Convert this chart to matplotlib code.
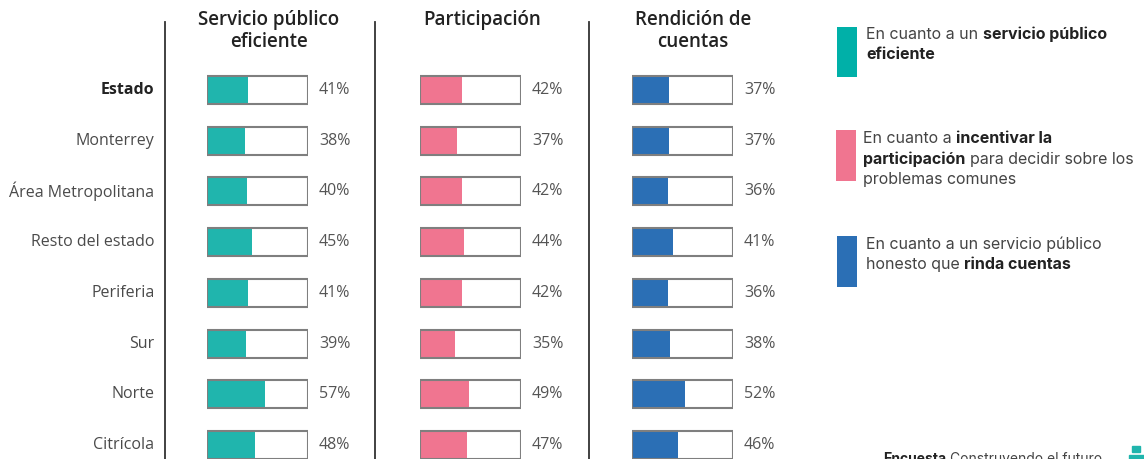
import numpy as np
import matplotlib.pyplot as plt
from matplotlib.patches import Rectangle

# datos
regiones = ["Estado", "Monterrey", "Área Metropolitana", "Resto del estado",
            "Periferia", "Sur", "Norte", "Citrícola"]
titulos = ["Servicio público\neficiente", "Participación", "Rendición de\ncuentas"]
eficiente = [41, 38, 40, 45, 41, 39, 57, 48]
participacion = [42, 37, 42, 44, 42, 35, 49, 47]
rendicion = [37, 37, 36, 41, 36, 38, 52, 46]
colores = ["#20b5ad", "#f07590", "#2b6fb5"]

W, H = 1144, 459
fig = plt.figure(figsize=(W/100, H/100), dpi=100)
fuente = "Open Sans"
gris = "#4a4a4a"

# filas en pixeles
y0, y1 = 90, 445
paso = (y1-y0)/(len(regiones)-1)
top_px = y0-paso/2
bot_px = y1+paso/2
cajas_x = [207, 420, 632]
ancho = 101

def fx(px):
    return px/W

def fy(py):
    return 1-py/H

series = [eficiente, participacion, rendicion]
ys = np.arange(len(regiones))
for i in range(3):
    ax = fig.add_axes([fx(cajas_x[i]), fy(bot_px), ancho/W, (bot_px-top_px)/H])
    ax.set_xlim(0, 100)
    ax.set_ylim(len(regiones)-0.5, -0.5)
    ax.axis("off")
    ax.barh(ys, series[i], height=0.55, color=colores[i], zorder=1)
    ax.barh(ys, [100]*len(ys), height=0.55, facecolor="none",
            edgecolor="#7f7f7f", linewidth=1.5, zorder=2)
    for y, v in zip(ys, series[i]):
        ax.text(111, y, "%d%%" % v, va="center", ha="left", fontsize=11.5,
                color="#555555", family=fuente, clip_on=False)
    if i == 0:
        for y, r in zip(ys, regiones):
            ax.text(-52, y, r, va="center", ha="right", fontsize=11.5,
                    color="#222222" if r == "Estado" else gris,
                    fontweight="bold" if r == "Estado" else "normal",
                    family=fuente, clip_on=False)

# titulos
for cx, t in zip([269, 482, 693], titulos):
    fig.text(fx(cx), fy(10), t, ha="center", va="top", fontsize=13.5,
             color="#222222", family=fuente, fontweight="semibold", linespacing=1.15)

# lineas verticales
for lx in [165, 375, 589]:
    fig.add_artist(plt.Line2D([fx(lx), fx(lx)], [fy(22), fy(H)],
                              color="#333333", linewidth=1.3))

# leyenda
leg_col = ["#00b0a8", "#f07590", "#2b6fb5"]
leg_box = [(837, 27, 77), (836, 130, 181), (837, 236, 287)]
for c, (lx, ya, yb) in zip(leg_col, leg_box):
    fig.add_artist(Rectangle((fx(lx), fy(yb)), 20/W, (yb-ya)/H,
                             facecolor=c, edgecolor="none"))

fl = "Inter"
def linea(x, y, partes, size=11.5):
    prev = None
    for txt, bold in partes:
        w = "bold" if bold else "normal"
        c = "#222222" if bold else "#444444"
        if prev is None:
            prev = fig.text(fx(x), fy(y), txt, ha="left", va="bottom",
                            fontsize=size, color=c, family=fl, fontweight=w)
        else:
            prev = fig.add_artist(plt.Annotation(txt, xy=(1, 0), xycoords=prev,
                                                 xytext=(size*0.28, 0), textcoords="offset points",
                                                 ha="left", va="bottom", fontsize=size,
                                                 color=c, family=fl, fontweight=w))

linea(866, 42, [("En cuanto a un", False), ("servicio público", True)])
linea(866, 62, [("eficiente", True)])
linea(863, 146, [("En cuanto a", False), ("incentivar la", True)])
linea(863, 167, [("participación", True), ("para decidir sobre los", False)])
linea(863, 187, [("problemas comunes", False)])
linea(866, 252, [("En cuanto a un servicio público", False)])
linea(866, 272, [("honesto que", False), ("rinda cuentas", True)])

# pie
linea(883, 466, [("Encuesta", True), ("Construyendo el futuro", False)], size=10)
fig.add_artist(Rectangle((fx(1132), fy(452)), 8/W, 6/H, color="#20b5ad"))
fig.add_artist(Rectangle((fx(1129), fy(462)), 16/W, 7/H, color="#20b5ad"))

fig.savefig("out.png", dpi=100, facecolor="white")
